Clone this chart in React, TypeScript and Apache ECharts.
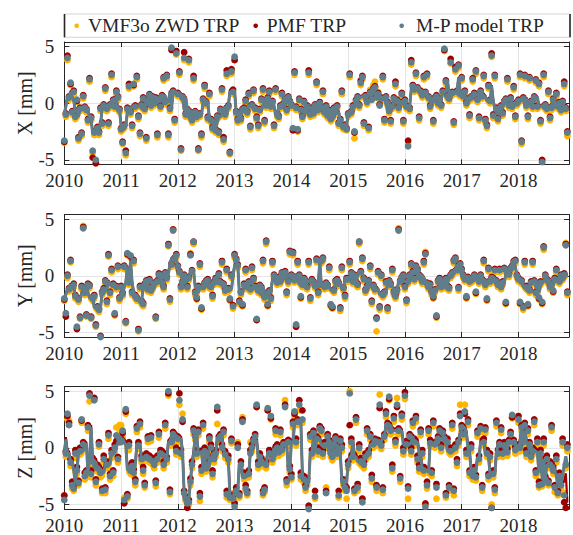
import React, { useEffect, useRef } from "react";
import * as echarts from "echarts";

// Sampling: 36 epochs per year starting at 2010.0
const START_YEAR = 2010;
const STEPS_PER_YEAR = 36;
const X_MAX = 2018.89;
const YEAR_TICKS = [2010, 2011, 2012, 2013, 2014, 2015, 2016, 2017, 2018];
const MM_TICKS = [-5, 0, 5];
const PANEL_LABELS = ["X [mm]", "Y [mm]", "Z [mm]"];
const SERIES_NAMES = ["VMF3o ZWD TRP", "PMF TRP", "M-P model TRP"];

// ---- X component [mm] ----
const mpX = [
  -3.3, -1.0, 4.0, 0.5, 1.8, -0.8, 1.0, -1.2, 0.3, -3.1, -0.5, -2.7, 0.6, -0.4, -0.6, -1.5, 2.1, -1.3, -4.2, -2.6, -5.0, -2.2, -2.6, -0.5, -1.8, -0.2, 1.3, -0.5, -1.8, -0.2, 2.5, 0.2, -0.3, 1.0, 0.5, -0.6,
  -2.3, -3.5, -2.0, -4.4, -0.5, 1.5, -0.8, -2.0, 1.7, -0.3, 2.3, -1.2, -2.7, -0.2, 0.4, -0.5, -3.1, 0.2, 0.7, -0.2, 0.5, 0.0, 0.4, -2.8, 0.3, -0.3, 0.6, 2.2, 0.1, 2.4, -2.8, -0.5, 4.9, 1.0, -1.5, 4.4,
  0.8, 2.7, -4.1, 0.5, 4.0, -1.0, -0.6, 3.8, -1.2, -1.5, 2.2, -0.8, -1.2, -4.1, -1.0, -2.8, 0.3, 1.5, 0.0, -1.3, 0.8, -1.5, -2.2, -1.7, -2.4, -1.2, -2.6, -0.6, 1.2, -3.2, -1.0, 2.6, -0.3, -4.4, 2.8, 1.0,
  4.1, -0.8, -1.5, -1.0, -1.4, -0.6, -0.5, 0.2, -0.8, 0.8, -2.1, -0.2, 1.1, -0.5, -1.3, -2.0, -0.6, 0.3, 1.2, -1.6, -0.2, 0.4, 1.0, -0.3, 0.1, -2.0, 1.2, -1.0, -1.2, -0.3, 0.8, -0.1, 0.3, -0.6, 0.5, 0.1,
  -0.2, -2.2, 2.7, -0.4, -2.3, 0.3, -0.6, -1.2, 0.1, -0.7, -0.3, 2.7, -1.0, -0.5, -0.9, -0.2, 1.8, -0.6, 0.0, -0.4, 1.0, -0.8, -0.3, -1.1, -0.7, -1.4, -1.2, -0.5, -0.8, -0.3, -1.8, -1.5, 1.0, -2.1, -2.0, -2.3,
  -1.0, 2.5, -0.8, -0.3, -2.5, 0.2, 0.5, -0.2, 1.8, 2.3, -1.8, 0.6, 0.1, -2.2, 0.9, 0.3, 1.2, 1.4, 0.5, 0.8, -0.2, 0.4, 2.3, -1.5, 0.5, 0.0, -0.7, -1.6, -0.3, 0.4, 1.7, 0.2, -0.4, 0.0, 0.8, -1.6,
  0.2, -0.3, -3.8, -0.5, 3.6, 1.5, 1.2, 2.6, 1.3, -1.3, 1.0, 0.7, 2.3, 0.9, 2.5, 0.5, -0.3, 0.2, -1.6, 0.4, 0.6, 0.0, 0.3, -0.2, 1.0, 4.8, 1.9, 0.6, 0.4, 3.6, 0.9, -1.7, 3.0, 1.0, 3.3, 0.8,
  2.2, 0.6, 1.0, 0.0, 0.3, -1.1, 0.5, 2.1, 0.8, 2.8, 0.3, -1.3, 1.0, 0.6, 2.4, -1.5, -2.0, 1.5, 0.2, 4.2, -1.1, 2.4, -0.5, -1.4, -0.8, -0.3, -0.9, 0.1, 0.3, 2.1, -0.2, 0.4, -0.3, 1.4, -1.2, 0.0,
  0.2, 2.5, -3.4, 0.4, 2.4, -0.2, -1.2, 2.2, 0.1, -0.3, 0.5, 2.0, -0.3, 1.7, -1.6, -5.2, 2.5, -0.2, -0.5, 1.0, -1.3, -0.4, 0.3, -0.1, 0.8, -0.3, 0.0, -0.6, 0.1, 1.7, -0.5, -2.6,
];
const pmfX = [
  -3.4, -0.9, 4.2, 0.6, 1.7, -0.7, 1.1, -1.1, 0.2, -3.0, -0.4, -2.6, 0.7, -0.3, -0.5, -1.4, 2.2, -1.2, -4.8, -2.5, -5.3, -2.1, -2.5, -0.4, -1.7, -0.1, 1.4, -0.4, -1.7, -0.1, 2.6, 0.3, -0.2, 1.1, 0.6, -0.5,
  -2.2, -3.4, -1.9, -4.2, -0.4, 1.7, -0.7, -1.9, 1.6, -0.2, 2.4, -1.1, -2.6, -0.1, 0.5, -0.4, -3.0, 0.3, 0.8, -0.1, 0.6, 0.1, 0.5, -2.7, 0.4, -0.2, 0.7, 2.3, 0.2, 2.5, -2.7, -0.4, 4.7, 1.1, -1.4, 4.6,
  0.9, 2.8, -4.0, 0.6, 4.5, -0.9, -0.5, 3.9, -1.1, -1.4, 2.4, -0.7, -1.1, -4.0, -0.9, -2.7, 0.4, 1.6, 0.1, -1.2, 0.9, -1.4, -2.1, -1.6, -2.3, -1.1, -2.5, -0.5, 1.3, -3.0, -0.9, 2.9, -0.2, -4.3, 3.0, 1.2,
  3.8, -0.7, -1.4, -0.9, -1.3, -0.5, -0.4, 0.3, -0.7, 0.9, -2.0, -0.1, 1.2, -0.4, -1.2, -1.9, -0.5, 0.4, 1.3, -1.5, -0.1, 0.5, 1.1, -0.2, 0.2, -1.9, 1.3, -0.9, -1.1, -0.2, 0.9, 0.0, 0.4, -0.5, 0.6, 0.2,
  -0.1, -2.4, 2.8, -0.3, -2.4, 0.4, -0.5, -1.1, 0.2, -0.6, -0.2, 2.9, -0.9, -0.4, -0.8, -0.1, 1.9, -0.5, 0.1, -0.3, 1.1, -0.7, -0.2, -1.0, -0.6, -1.3, -1.1, -0.4, -0.7, -0.2, -1.7, -1.4, 1.1, -2.0, -1.9, -2.2,
  -0.9, 2.6, -0.7, -0.2, -2.6, 0.3, 0.6, -0.1, 2.0, 2.4, -1.7, 0.7, 0.2, -2.1, 1.0, 0.4, 1.3, 1.5, 0.6, 0.9, -0.1, 0.5, 2.4, -1.4, 0.6, 0.1, -0.6, -1.5, -0.2, 0.5, 1.9, 0.3, -0.3, 0.1, 0.9, -1.5,
  0.3, -0.2, -3.3, -0.4, 3.8, 1.6, 1.3, 2.7, 1.4, -1.2, 1.1, 0.8, 2.4, 1.0, 2.6, 0.6, -0.2, 0.3, -1.5, 0.5, 0.7, 0.1, 0.4, -0.1, 1.1, 4.7, 2.0, 0.7, 0.5, 3.9, 1.0, -1.6, 3.2, 1.1, 3.4, 0.9,
  2.3, 0.7, 1.1, 0.1, 0.4, -1.0, 0.6, 2.2, 0.9, 2.9, 0.4, -1.2, 1.1, 0.7, 2.5, -1.4, -1.9, 1.6, 0.3, 4.4, -1.0, 2.5, -0.4, -1.3, -0.7, -0.2, -0.8, 0.2, 0.4, 2.2, -0.1, 0.5, -0.2, 1.5, -1.1, 0.1,
  0.3, 2.6, -3.3, 0.5, 2.5, -0.1, -1.1, 2.3, 0.2, -0.2, 0.6, 2.1, -0.2, 1.8, -1.5, -5.0, 2.6, -0.1, -0.4, 1.1, -1.2, -0.3, 0.4, 0.0, 0.9, -0.2, 0.1, -0.5, 0.2, 1.9, -0.4, -2.5,
];
const vmfX = [
  -3.5, -1.2, 3.8, 0.3, 1.6, -1.0, 0.8, -1.4, 0.1, -3.3, -0.7, -2.9, 0.4, -0.6, -0.8, -1.7, 1.9, -1.5, -4.4, -2.8, -5.1, -2.4, -2.8, -0.7, -2.0, -0.4, 1.1, -0.7, -2.0, -0.4, 2.3, 0.0, -0.5, 0.8, 0.3, -0.8,
  -2.5, -3.6, -2.2, -4.6, -0.7, 1.3, -1.0, -2.2, 1.5, -0.5, 2.1, -1.4, -2.9, -0.4, 0.2, -0.7, -3.3, 0.0, 0.5, -0.4, 0.3, -0.2, 0.2, -3.0, 0.1, -0.5, 0.4, 2.0, -0.1, 2.2, -3.0, -0.7, 4.8, 0.8, -1.7, 4.3,
  0.6, 2.5, -4.2, 0.3, 3.8, -1.2, -0.8, 3.6, -1.4, -1.7, 2.0, -1.0, -1.4, -4.2, -1.2, -3.0, 0.1, 1.3, -0.2, -1.5, 0.6, -1.7, -2.4, -1.9, -2.6, -1.4, -2.8, -0.8, 1.0, -3.4, -1.2, 2.4, -0.5, -4.5, 2.6, 0.8,
  4.0, -1.0, -1.7, -1.2, -1.6, -0.8, -0.7, 0.0, -1.0, 0.6, -2.3, -0.4, 0.9, -0.7, -1.5, -2.2, -0.8, 0.1, 1.0, -1.8, -0.4, 0.2, 0.8, -0.5, -0.1, -2.2, 1.0, -1.2, -1.4, -0.5, 0.6, -0.3, 0.1, -0.8, 0.3, -0.1,
  -0.4, -2.3, 2.5, -0.6, -2.5, 0.1, -0.8, -1.4, -0.1, -0.9, -0.5, 2.5, -1.2, -0.7, -1.1, -0.4, 1.6, -0.8, -0.2, -0.6, 0.8, -1.0, -0.5, -1.3, -0.9, -1.6, -1.4, -0.7, -1.0, -0.5, -2.0, -1.7, 0.8, -2.3, -2.2, -2.4,
  -1.2, 2.3, -1.0, -0.5, -3.1, 0.0, 0.3, -0.4, 1.6, 2.1, -2.0, 0.4, -0.1, -2.4, 1.2, 0.6, 1.6, 1.9, 0.8, 1.0, 0.0, 0.2, 2.1, -1.7, 0.3, -0.2, -0.9, -1.8, -0.5, 0.2, 1.5, 0.0, -0.6, -0.2, 0.6, -1.8,
  0.0, -0.5, -3.6, -0.7, 3.4, 1.3, 1.0, 2.4, 1.1, -1.5, 0.8, 0.5, 2.1, 0.7, 2.3, 0.3, -0.5, 0.0, -1.8, 0.2, 0.4, -0.2, 0.1, -0.4, 0.8, 4.6, 1.7, 0.4, 0.2, 3.5, 0.7, -1.9, 2.8, 0.8, 3.1, 0.6,
  2.0, 0.4, 0.8, -0.2, 0.1, -1.3, 0.3, 1.9, 0.6, 2.6, 0.1, -1.5, 0.8, 0.4, 2.2, -1.7, -2.2, 1.3, 0.0, 4.1, -1.3, 2.2, -0.7, -1.6, -1.0, -0.5, -1.1, -0.1, 0.1, 1.9, -0.4, 0.2, -0.5, 1.2, -1.4, -0.2,
  0.0, 2.3, -3.6, 0.2, 2.2, -0.4, -1.4, 2.0, -0.1, -0.5, 0.3, 1.8, -0.5, 1.5, -1.8, -5.1, 2.3, -0.4, -0.7, 0.8, -1.5, -0.6, 0.1, -0.3, 0.6, -0.5, -0.2, -0.8, -0.1, 1.5, -0.7, -2.9,
];

// ---- Y component [mm] ----
const mpY = [
  -2.0, -3.3, 0.0, -1.2, 1.3, -1.0, -0.8, -1.8, -4.5, -2.1, -3.7, -1.0, 4.2, -1.5, -3.5, -0.8, -0.9, -3.7, -2.0, -1.8, -4.4, -2.8, -3.0, -5.4, -1.5, -1.2, -0.5, -2.3, 1.8, -1.5, 0.5, -0.8, -3.3, -1.0, 0.8, -2.0,
  -1.0, -1.6, 0.8, -4.1, 2.0, -0.6, 1.8, -1.5, 1.3, -1.8, -2.0, -4.8, -1.0, -2.3, -2.5, -0.8, -0.5, -1.2, -0.4, -1.3, -1.0, -0.7, -3.7, -0.5, 0.1, 0.0, -0.6, -1.0, 0.2, -0.2, 2.7, -2.1, 1.0, 4.0, 1.5, 1.8,
  0.8, 0.3, -1.0, -0.6, 0.0, -0.4, -1.0, -0.2, 1.8, 0.4, 3.0, -1.5, -1.9, -1.0, 1.0, -2.8, -1.0, -0.7, -0.5, -0.4, -0.9, -1.0, -1.8, -0.6, -0.3, -0.5, 0.1, -0.6, 1.2, -0.8, -1.3, 0.5, -1.2, -2.0, 0.0, -2.7,
  1.8, 1.4, 0.9, -2.3, -1.5, -2.5, -0.8, 0.5, -1.0, -0.6, -1.2, 0.7, -0.3, -1.0, -3.8, -1.3, -0.9, -1.5, 1.3, -1.9, 3.0, -2.5, -1.4, -2.0, 1.2, 0.0, -0.3, -0.6, -0.2, -0.5, 0.2, -0.1, 0.3, -1.5, -0.5, 2.1,
  0.0, 2.0, -0.4, -4.3, 1.2, 0.0, -1.8, -0.8, -0.3, -0.5, -1.0, 1.2, -2.0, -0.4, -0.6, -0.9, 1.4, -1.5, -0.8, 1.3, 1.5, -1.0, -0.7, -0.9, 0.7, -2.5, -2.7, -1.3, -0.5, -0.4, -0.7, -2.9, 0.7, -1.1, -1.8, -0.3,
  -0.3, 1.2, 0.2, -0.5, 0.0, -0.6, -0.8, 3.0, 0.3, 1.5, -0.3, -1.3, -1.0, -0.5, 0.8, -2.3, -0.9, -1.2, -3.8, 0.3, -2.8, 0.0, -1.7, -1.5, -0.6, -2.9, -0.5, -0.8, 0.5, -1.5, -1.8, -1.3, 4.0, -0.5, -0.2, 0.0,
  -1.0, -2.2, -0.5, 0.0, 1.0, 0.3, -0.3, 0.8, 0.5, 0.0, -0.2, -0.5, 1.2, 1.9, -0.7, -1.0, -0.8, -1.5, -1.8, -1.3, -3.5, -0.5, -0.3, -1.0, -0.9, -0.6, -0.3, -1.0, -1.1, 0.0, 0.2, 1.3, 1.5, 0.5, -1.1, 1.0,
  0.5, 0.0, -0.3, -1.8, -0.2, -0.5, -0.4, -0.3, 0.0, -1.4, -0.2, -0.5, 0.0, -0.4, 1.3, -0.8, -2.0, 0.6, -0.5, -0.2, -0.3, 0.5, -0.5, -0.8, 0.5, -1.0, -0.6, 0.6, -2.3, 0.3, 0.1, 0.6, 0.8, 1.2, 1.3, 0.0,
  -0.3, -2.3, -0.5, -2.8, 1.2, -1.0, -2.5, -1.3, -0.6, 1.2, -0.5, -1.5, -0.9, -1.9, -0.6, -2.3, 2.5, 0.0, -0.4, -0.5, -1.0, -0.8, -1.3, -0.3, 0.5, -0.4, -0.5, 0.0, -0.2, 0.1, 2.7, -1.5,
];
const pmfY = [
  -2.1, -3.6, 0.1, -1.1, 1.4, -0.9, -0.7, -1.7, -4.7, -2.0, -3.6, -0.9, 4.3, -1.4, -3.4, -0.7, -0.8, -3.6, -1.9, -1.7, -4.3, -2.7, -2.9, -5.3, -1.4, -1.1, -0.4, -2.2, 1.9, -1.4, 0.6, -0.7, -3.4, -0.9, 0.9, -1.9,
  -0.9, -1.5, 0.9, -4.0, 1.9, -0.5, 1.7, -1.4, 1.4, -1.7, -1.9, -4.7, -0.9, -2.2, -2.4, -0.7, -0.4, -1.1, -0.3, -1.2, -0.9, -0.6, -3.6, -0.4, 0.2, 0.1, -0.5, -0.9, 0.3, -0.1, 2.8, -2.0, 1.1, 4.1, 1.6, 1.9,
  0.9, 0.4, -0.9, -0.5, 0.1, -0.3, -0.9, -0.1, 1.9, 0.5, 3.0, -1.4, -2.0, -0.9, 1.1, -2.9, -0.9, -0.6, -0.4, -0.3, -0.8, -0.9, -1.7, -0.5, -0.2, -0.4, 0.2, -0.5, 1.3, -0.7, -1.2, 0.6, -1.1, -2.1, 0.1, -2.6,
  1.9, 1.5, 1.0, -2.2, -1.4, -2.6, -0.7, 0.6, -0.9, -0.5, -1.1, 0.8, -0.2, -0.9, -3.9, -1.2, -0.8, -1.4, 1.4, -1.8, 3.1, -2.6, -1.3, -1.9, 1.3, 0.1, -0.2, -0.5, -0.1, -0.4, 0.3, 0.0, 0.4, -1.4, -0.4, 2.2,
  0.1, 2.1, -0.3, -4.5, 1.3, 0.1, -1.9, -0.7, -0.2, -0.4, -0.9, 1.3, -1.9, -0.3, -0.5, -0.8, 1.5, -1.4, -0.7, 1.4, 1.6, -0.9, -0.6, -0.8, 0.8, -2.6, -2.8, -1.2, -0.4, -0.3, -0.6, -2.8, 0.8, -1.0, -1.7, -0.2,
  -0.2, 1.3, 0.3, -0.4, 0.1, -0.5, -0.7, 3.0, 0.4, 1.6, -0.2, -1.2, -0.9, -0.4, 0.9, -2.2, -0.8, -1.1, -3.7, 0.4, -2.7, 0.1, -1.6, -1.4, -0.5, -2.8, -0.4, -0.7, 0.6, -1.4, -1.7, -1.2, 4.1, -0.4, -0.1, 0.1,
  -0.9, -2.1, -0.4, 0.1, 1.1, 0.4, -0.2, 0.9, 0.6, 0.1, -0.1, -0.4, 1.3, 2.0, -0.6, -0.9, -0.7, -1.4, -1.9, -1.2, -3.6, -0.4, -0.2, -0.9, -0.8, -0.5, -0.2, -0.9, -1.0, 0.1, 0.3, 1.4, 1.6, 0.6, -1.0, 1.1,
  0.6, 0.1, -0.2, -1.9, -0.1, -0.4, -0.3, -0.2, 0.1, -1.5, -0.1, -0.4, 0.1, -0.3, 1.4, -0.7, -2.1, 0.7, -0.4, -0.1, -0.2, 0.6, -0.4, -0.7, 0.6, -0.9, -0.5, 0.7, -2.4, 0.4, 0.2, 0.7, 0.9, 1.3, 1.4, 0.1,
  -0.2, -2.4, -0.4, -2.7, 1.3, -0.9, -2.6, -1.2, -0.5, 1.3, -0.4, -1.4, -0.8, -2.0, -0.5, -2.4, 2.6, 0.1, -0.3, -0.4, -0.9, -0.7, -1.4, -0.2, 0.6, -0.3, -0.4, 0.1, -0.1, 0.2, 2.8, -1.4,
];
const vmfY = [
  -2.2, -3.4, -0.2, -1.4, 1.2, -1.2, -1.0, -2.0, -4.6, -2.3, -3.8, -1.2, 4.4, -1.7, -3.6, -1.0, -1.1, -3.8, -2.2, -2.0, -4.5, -3.0, -3.2, -5.5, -1.7, -1.4, -0.7, -2.5, 1.7, -1.7, 0.3, -1.0, -3.5, -1.2, 0.6, -2.2,
  -1.2, -1.8, 0.6, -4.2, 1.8, -0.8, 1.6, -1.7, 1.1, -2.0, -2.2, -4.9, -1.2, -2.5, -2.7, -1.0, -0.7, -1.4, -0.6, -1.5, -1.2, -0.9, -3.8, -0.7, -0.1, -0.2, -0.8, -1.2, 0.0, -0.4, 2.6, -2.3, 0.8, 4.1, 1.3, 1.6,
  0.6, 0.1, -1.2, -0.8, -0.2, -0.6, -1.2, -0.4, 2.0, 0.2, 2.8, -1.7, -2.1, -1.2, 0.8, -3.0, -1.2, -0.9, -0.7, -0.6, -1.1, -1.2, -2.0, -0.8, -0.5, -0.7, -0.1, -0.8, 1.0, -1.0, -1.5, 0.3, -1.4, -2.2, -0.2, -2.9,
  1.6, 1.2, 0.7, -2.5, -1.7, -2.7, -1.0, 0.3, -1.2, -0.8, -1.4, 0.5, -0.5, -1.2, -3.9, -1.5, -1.1, -1.7, 1.1, -2.1, 2.8, -2.7, -1.6, -2.2, 1.0, -0.2, -0.5, -0.8, -0.4, -0.7, 0.0, -0.3, 0.1, -1.7, -0.7, 1.9,
  -0.2, 1.8, -0.6, -4.5, 1.0, -0.2, -2.0, -1.0, -0.5, -0.7, -1.2, 1.0, -2.2, -0.6, -0.8, -1.1, 1.2, -1.7, -1.0, 1.1, 1.3, -1.2, -0.9, -1.1, 0.5, -2.7, -2.9, -1.5, -0.7, -0.6, -0.9, -3.1, 0.5, -1.3, -2.0, -0.5,
  -0.5, 1.0, 0.0, -0.7, -0.2, -0.8, -1.0, 2.8, 0.1, 1.3, -0.5, -1.5, -1.2, -0.7, 0.6, -2.5, -1.1, -1.4, -4.9, 0.1, -3.0, -0.2, -1.9, -1.7, -0.8, -3.1, -0.7, -1.0, 0.3, -1.7, -2.0, -1.5, 4.2, -0.7, -0.4, -0.2,
  -1.2, -2.4, -0.7, -0.2, 0.8, 0.1, -0.5, 0.6, 0.3, -0.2, -0.4, -0.7, 1.0, 2.1, -0.9, -1.2, -1.0, -1.7, -2.0, -1.5, -3.7, -0.7, -0.5, -1.2, -1.1, -0.8, -0.5, -1.2, -1.3, -0.2, 0.0, 1.1, 1.3, 0.3, -1.3, 0.8,
  0.3, -0.2, -0.5, -2.0, -0.4, -0.7, -0.6, -0.5, -0.2, -1.6, -0.4, -0.7, -0.2, -0.6, 1.1, -1.0, -2.2, 0.4, -0.7, -0.4, -0.5, 0.3, -0.7, -1.0, 0.3, -1.2, -0.8, 0.4, -2.5, 0.1, -0.1, 0.4, 0.6, 1.0, 1.1, -0.2,
  -0.5, -2.5, -0.7, -3.0, 1.0, -1.2, -2.7, -1.5, -0.8, 1.0, -0.7, -1.7, -1.1, -2.1, -0.8, -2.5, 2.3, -0.2, -0.6, -0.7, -1.2, -1.0, -1.5, -0.5, 0.3, -0.6, -0.7, -0.2, -0.4, -0.1, 2.9, -1.7,
];

// ---- Z component [mm] ----
const mpZ = [
  -4.6, -0.5, 3.0, 2.0, -1.3, -3.3, -3.6, -0.5, -2.0, -3.1, -0.3, 2.5, 0.3, -2.5, -2.2, 1.8, 4.6, -2.3, -1.2, 4.2, -3.0, -1.8, 0.3, -2.2, -3.8, -1.0, -3.7, -1.5, 1.1, -2.5, -0.5, -2.2, 0.0, 1.1, -1.0, 0.8,
  0.5, 1.5, -4.6, 3.4, -4.3, 0.2, -2.0, -1.6, -2.2, -3.0, 1.7, 0.2, 2.1, -1.0, -2.0, -3.3, -0.8, 0.8, -1.0, 0.9, -1.2, -1.5, -3.1, -1.0, 1.2, -0.5, -0.6, -1.5, 2.0, -1.0, 5.0, -3.9, 0.5, 1.2, 1.0, -0.3,
  0.8, 4.2, -0.5, 2.5, -4.0, -4.5, -4.9, -4.8, -3.0, -1.5, 1.5, 1.0, -0.5, 1.4, -4.3, -2.0, 2.0, -0.3, -1.8, -1.5, 0.8, 0.0, -2.3, -1.0, -0.5, 3.6, 0.8, 1.0, 0.0, 1.4, -0.6, -4.1, -1.0, -4.4, 0.6, -4.5,
  -5.2, -3.8, 0.0, -4.2, -1.5, 2.3, -2.5, -3.6, -4.0, -2.3, -0.5, 0.0, 0.6, 1.0, 3.8, -1.5, -0.8, -1.2, -4.0, -3.7, -1.5, 3.5, -0.5, 2.8, -1.0, -0.6, 1.5, 0.0, -0.4, 1.4, -0.2, 0.3, 3.6, -3.0, 0.5, -1.9,
  -2.6, 2.1, 3.2, 0.5, 2.3, 3.8, -2.5, 2.5, -2.8, -3.5, -3.0, -5.4, 1.0, -0.5, 1.3, -4.3, 0.8, -0.3, 1.7, 1.5, -0.5, 0.2, -4.0, 1.0, 0.5, -0.5, -0.8, 0.3, 0.8, -0.5, -4.2, 0.6, 0.0, -3.0, -3.5, -3.8,
  -1.5, 4.8, 0.5, -0.8, -3.8, 2.5, -3.5, 0.0, -1.2, -4.8, -1.5, -0.8, 1.5, -0.5, 1.0, -2.7, 0.3, 0.6, -3.5, 0.5, 3.8, 0.2, -3.7, 1.0, 3.0, 2.0, 4.5, 1.5, -1.8, 2.6, 0.5, 3.8, 1.5, -2.7, 2.8, -0.3,
  4.6, 0.3, -3.6, 1.0, -0.3, 2.2, 0.5, 2.6, -1.0, -1.8, 1.4, -0.5, -2.0, -5.2, -3.3, 1.5, 0.4, -2.2, 2.2, 0.3, -3.5, 0.8, 1.5, 0.0, 1.3, 0.8, -4.2, 0.5, -3.5, -0.3, 2.0, -3.8, 0.0, -1.3, 0.5, 2.8,
  1.8, 1.2, 3.2, -0.5, 2.3, -2.2, 0.0, -2.5, -2.0, -2.6, 1.3, -1.0, 1.7, -3.5, 0.5, 1.6, -0.5, -2.5, -0.8, -5.3, -2.3, -3.7, 2.2, -0.5, 0.3, 1.6, -0.5, 0.2, 0.0, -0.4, 0.5, 1.2, 2.9, 0.5, -0.2, 0.0,
  2.5, 0.0, 1.8, 0.5, 2.0, -0.5, 1.5, 0.3, -0.8, -0.3, 2.3, -2.2, 0.5, -3.3, -0.5, -3.2, 0.5, -2.8, -1.0, -3.1, -1.5, 1.8, -2.0, -3.5, -1.0, -4.0, -2.5, -3.3, 0.5, -4.2, -1.5, 0.0,
];
const pmfZ = [
  -4.2, -0.3, 2.8, 2.2, -1.0, -3.0, -3.3, -0.2, -1.7, -2.9, 0.0, 2.4, 0.5, -2.2, -2.0, 2.0, 4.8, -2.0, -0.9, 4.4, -2.8, -1.5, 0.5, -1.9, -3.6, -0.7, -3.5, -1.2, 1.3, -2.3, -0.2, -2.0, 0.3, 0.6, -0.8, 0.5,
  0.8, 1.3, -4.9, 3.2, -4.1, 0.5, -1.7, -1.3, -1.9, -2.8, 1.9, 0.5, 2.3, -0.7, -1.7, -3.1, -0.5, 1.0, -0.7, 1.1, -0.9, -1.2, -2.9, -0.7, 1.4, -0.2, -0.3, -1.2, 2.2, -0.8, 4.8, -3.7, 0.7, 1.4, 1.2, 0.0,
  1.0, 4.8, -0.2, 2.3, -3.8, -4.3, -5.3, -4.6, -2.7, -1.2, 1.7, 1.2, -0.2, 1.6, -4.0, -1.7, 2.2, 0.0, -1.5, -1.2, 1.0, 0.3, -2.0, -0.7, -0.2, 3.3, 1.0, 1.2, 0.3, 1.6, -0.3, -3.8, -0.7, -4.2, 0.8, -4.2,
  -4.9, -3.5, 0.3, -4.0, -1.2, 2.5, -2.2, -3.3, -3.8, -2.0, -0.2, 0.3, 0.8, 1.2, 3.6, -1.2, -0.5, -0.9, -3.8, -3.5, -1.2, 3.3, -0.2, 2.6, -0.7, -0.3, 1.7, 0.3, -0.1, 1.6, 0.1, 0.5, 3.8, -2.8, 0.7, -1.6,
  -2.3, 2.3, 3.0, 0.8, 2.5, 4.2, -2.2, 3.3, -2.5, -3.3, -2.7, -5.1, 1.2, -0.2, 1.5, -3.8, 1.0, 0.0, 1.9, 1.7, -0.2, 0.5, -3.8, 1.2, 0.7, -0.2, -0.5, 0.5, 1.0, -0.2, -3.8, 0.8, 0.3, -2.8, -3.3, -3.5,
  -1.2, 2.0, 0.8, -0.5, -3.6, 2.7, -3.2, 0.3, -0.9, -4.5, -1.2, -0.5, 1.7, -0.2, 1.2, -2.4, 0.5, 0.8, -3.3, 0.7, 3.5, 0.5, -3.5, 1.2, 3.2, 2.2, 4.3, 1.7, -1.5, 2.8, 0.7, 3.6, 1.7, -2.5, 3.0, 0.0,
  4.9, 0.6, -3.4, 1.2, 0.0, 2.4, 0.8, 2.8, -0.7, -1.5, 1.6, -0.2, -1.7, -4.9, -3.0, 1.7, 0.7, -2.0, 2.4, 0.5, -3.2, 1.0, 1.7, 0.3, 1.5, 1.0, -4.0, 0.8, -3.3, 0.0, 2.2, -3.6, 0.3, -1.0, 0.7, 3.0,
  2.0, 1.5, 3.0, -0.2, 2.5, -2.0, 0.3, -2.2, -1.7, -2.4, 1.5, -0.7, 1.9, -3.3, 0.8, 1.8, -0.2, -2.3, -0.5, -5.3, -2.0, -3.5, 2.4, -0.2, 0.5, 1.8, -0.2, 0.5, 0.3, -0.1, 0.7, 1.4, 2.7, 0.7, 0.1, 0.3,
  2.8, 0.3, 2.0, 0.8, 2.2, -0.2, 1.7, 0.5, -0.5, 0.0, 2.5, -2.0, 0.8, -3.0, -0.2, -3.0, 0.8, -2.5, -0.7, -2.9, -1.2, 2.0, -1.7, -3.3, -0.7, -3.8, -2.2, -3.0, 0.8, -4.8, -5.3, 0.3,
];
const vmfZ = [
  -4.2, -0.8, 2.5, 2.4, -1.6, -3.6, -3.8, -0.9, -2.3, -3.3, -0.6, 2.2, 0.0, -2.8, -2.6, 1.5, 4.1, -2.6, -1.5, 4.4, -3.3, -2.1, 0.1, -2.6, -4.0, -1.3, -4.0, -1.8, 0.8, -2.8, -0.9, -2.5, -0.3, 1.8, -1.3, 2.0,
  2.0, 1.0, -4.4, 3.0, -4.5, -0.2, -2.3, -1.9, -2.5, -3.3, 1.4, -0.1, 1.8, -1.3, -2.3, -3.5, -1.1, 0.5, -1.3, 0.6, -1.5, -1.8, -3.4, -1.3, 0.9, -0.8, -0.9, -1.8, 1.7, -1.3, 4.6, -4.1, 0.2, 0.9, 0.7, -0.6,
  0.5, 3.8, -0.8, 3.0, -3.8, -4.7, -5.0, -5.0, -3.3, -1.8, 1.2, 0.7, -0.8, 1.1, -4.7, -2.3, 1.7, -0.6, -2.1, -1.8, 0.5, -0.3, -2.6, -1.3, -0.8, 2.1, 0.5, 0.7, -0.3, 1.1, -0.9, -4.4, -1.3, -4.6, 0.4, -4.0,
  -4.8, -4.0, 0.5, -4.4, -1.8, 2.7, -2.8, -3.8, -4.2, -2.6, 0.5, -0.3, 0.3, 0.7, 3.6, -1.8, -1.1, -1.5, -4.2, -3.9, -1.8, 3.3, -0.8, 2.5, -1.3, -0.9, 1.2, -0.3, -0.7, 1.1, -0.5, 0.0, 4.2, -3.3, 0.2, -2.2,
  -2.8, 1.8, 2.8, 0.2, 2.0, 3.3, -2.8, 2.2, -3.1, -3.8, -3.3, -5.3, 0.7, -0.8, 1.0, -4.5, 0.5, -0.6, 1.4, 1.2, -0.8, -0.1, -3.5, 0.7, 0.2, -0.8, -1.1, 0.0, 0.5, -0.8, -4.4, 0.3, -0.3, -3.3, -3.8, -4.5,
  -1.8, 5.0, 0.2, -1.1, -4.0, 2.2, -3.8, -0.3, -1.5, -4.5, -1.8, -1.1, 1.2, -0.8, 0.7, -3.0, 0.0, 0.3, -3.8, 0.2, 4.7, -0.1, -4.0, 0.7, 2.7, 1.7, 4.2, 1.2, -2.1, 2.3, 0.2, 4.4, 1.2, -3.0, 2.5, -0.6,
  4.3, 0.0, -4.5, 0.7, -0.6, 1.9, 0.2, 2.3, -1.3, -2.1, 1.1, -0.8, -2.3, -5.0, -3.6, 1.2, 0.1, -2.5, 1.9, 0.0, -4.5, 0.5, 1.2, -0.3, 1.0, 0.5, -4.4, 0.2, -3.8, -0.6, 1.7, -4.2, -0.3, -1.6, 0.2, 3.8,
  1.5, 0.9, 3.8, -0.8, 2.0, -2.5, -0.3, -2.8, -2.3, -2.9, 1.0, -1.3, 1.4, -3.8, 0.2, 1.3, -0.8, -2.8, -1.1, -5.0, -2.6, -4.0, 1.9, -0.8, 0.0, 1.3, -0.8, -0.1, -0.3, -0.7, 0.2, 0.9, 2.6, 0.2, -0.5, -0.3,
  2.2, -0.3, 1.5, 0.2, 1.7, -0.8, 1.2, 0.0, -1.1, -0.6, 2.0, -2.5, 0.2, -3.5, -0.8, -3.4, 0.2, -3.0, -1.3, -3.3, -1.8, 1.5, -2.3, -3.9, -1.3, -4.2, -2.8, -3.6, 0.2, -4.0, -1.8, -0.3,
];

const FONT = "'Liberation Serif', 'Times New Roman', serif";
const INK = "#262626";
const GRID_LINE = "#e4e4e4";
const COLORS = ["#FFB400", "#9E0000", "#607D8B"];

const PANEL_TOPS = [42, 214.6, 386.6];
const PANEL_H = 122.4;
const PLOT_LEFT = 64.3;
const PLOT_RIGHT = 569;
const Y_MIN = -5.4;
const Y_MAX = 5.4;

// centred running median, window of 5 epochs
function runningMedian(v: number[], w = 5): number[] {
  const h = Math.floor(w / 2);
  return v.map((_, i) => {
    const win = v.slice(Math.max(0, i - h), Math.min(v.length, i + h + 1)).slice().sort((a, b) => a - b);
    const m = Math.floor(win.length / 2);
    return win.length % 2 ? win[m] : (win[m - 1] + win[m]) / 2;
  });
}

const epoch = (i: number) => START_YEAR + i / STEPS_PER_YEAR;
const pairs = (v: number[]) => v.map((y, i) => [epoch(i), y]);

export default function App() {
  const ref = useRef<HTMLDivElement>(null);

  useEffect(() => {
    if (!ref.current) return;
    const chart = echarts.init(ref.current, null, { renderer: "svg" });

    const panels = [
      [vmfX, pmfX, mpX],
      [vmfY, pmfY, mpY],
      [vmfZ, pmfZ, mpZ],
    ];

    const grid: any[] = [];
    const xAxis: any[] = [];
    const yAxis: any[] = [];
    const series: any[] = [];

    panels.forEach((sets, p) => {
      grid.push({
        left: PLOT_LEFT,
        top: PANEL_TOPS[p],
        width: PLOT_RIGHT - PLOT_LEFT,
        height: PANEL_H,
        show: false,
      });
      const xBase = {
        type: "value",
        gridIndex: p,
        min: START_YEAR,
        max: X_MAX,
        interval: 1,
        axisLine: { show: true, onZero: false, lineStyle: { color: INK, width: 1 } },
        axisTick: { show: true, inside: true, length: 5, lineStyle: { color: INK, width: 1 } },
      };
      xAxis.push({
        ...xBase,
        position: "bottom",
        axisLabel: {
          show: true,
          margin: 7,
          color: INK,
          fontFamily: FONT,
          fontSize: 19,
          formatter: (v: number) => (YEAR_TICKS.includes(v) ? String(v) : ""),
        },
        splitLine: { show: true, lineStyle: { color: GRID_LINE, width: 1 } },
      });
      xAxis.push({
        ...xBase,
        position: "top",
        axisLabel: { show: false },
        splitLine: { show: false },
      });
      const yBase = {
        type: "value",
        gridIndex: p,
        min: Y_MIN,
        max: Y_MAX,
        axisLine: { show: true, onZero: false, lineStyle: { color: INK, width: 1 } },
        axisTick: {
          show: true,
          inside: true,
          length: 5,
          customValues: MM_TICKS,
          lineStyle: { color: INK, width: 1 },
        },
      };
      yAxis.push({
        ...yBase,
        position: "left",
        axisLabel: {
          show: true,
          customValues: MM_TICKS,
          margin: 10,
          color: INK,
          fontFamily: FONT,
          fontSize: 19,
          formatter: (v: number) => String(v),
        },
        splitLine: { show: true, lineStyle: { color: GRID_LINE, width: 1 } },
      });
      yAxis.push({
        ...yBase,
        position: "right",
        axisLabel: { show: false },
        splitLine: { show: false },
      });

      sets.forEach((vals, k) => {
        series.push({
          type: "scatter",
          name: SERIES_NAMES[k],
          xAxisIndex: 2 * p,
          yAxisIndex: 2 * p,
          data: pairs(vals),
          symbol: "circle",
          symbolSize: 6.8,
          itemStyle: { color: COLORS[k], opacity: 1 },
          silent: true,
          z: 2 + k,
        });
        series.push({
          type: "line",
          name: SERIES_NAMES[k],
          xAxisIndex: 2 * p,
          yAxisIndex: 2 * p,
          data: pairs(runningMedian(vals)),
          showSymbol: false,
          symbol: "none",
          lineStyle: { color: COLORS[k], width: k === 2 ? 3 : 2.2 },
          silent: true,
          z: 2 + k,
        });
      });
    });

    const legendY = 25.7;
    const graphic: any[] = [
      {
        type: "rect",
        shape: { x: 64.5, y: 14, width: 505.5, height: 23.3 },
        style: { fill: "#ffffff", stroke: "#d6d6d6", lineWidth: 1 },
        z: 10,
      },
      { type: "line", shape: { x1: 64.5, y1: 14, x2: 64.5, y2: 37.3 }, style: { stroke: INK, lineWidth: 1.6 }, z: 11 },
      { type: "line", shape: { x1: 570, y1: 14, x2: 570, y2: 37.3 }, style: { stroke: INK, lineWidth: 1.6 }, z: 11 },
    ];
    const legendDotX = [76.7, 255.7, 401.7];
    const legendTextX = [88, 266.7, 416];
    SERIES_NAMES.forEach((name, k) => {
      graphic.push({
        type: "circle",
        shape: { cx: legendDotX[k], cy: legendY, r: 2.3 },
        style: { fill: COLORS[k] },
        z: 11,
      });
      graphic.push({
        type: "text",
        x: legendTextX[k],
        y: legendY,
        style: {
          text: name,
          fill: INK,
          font: `19.5px ${FONT}`,
          textAlign: "left",
          textVerticalAlign: "middle",
        },
        z: 11,
      });
    });
    PANEL_LABELS.forEach((label, p) => {
      graphic.push({
        type: "text",
        x: 25,
        y: PANEL_TOPS[p] + PANEL_H / 2,
        rotation: Math.PI / 2,
        style: {
          text: label,
          fill: INK,
          font: `20px ${FONT}`,
          textAlign: "center",
          textVerticalAlign: "middle",
        },
        z: 11,
      });
    });

    chart.setOption({
      animation: false,
      backgroundColor: "#ffffff",
      grid,
      xAxis,
      yAxis,
      series,
      graphic,
    });

    return () => chart.dispose();
  }, []);

  return (
    <div
      ref={ref}
      style={{ position: "fixed", left: 0, top: 0, width: 573, height: 535, background: "#fff" }}
    />
  );
}
